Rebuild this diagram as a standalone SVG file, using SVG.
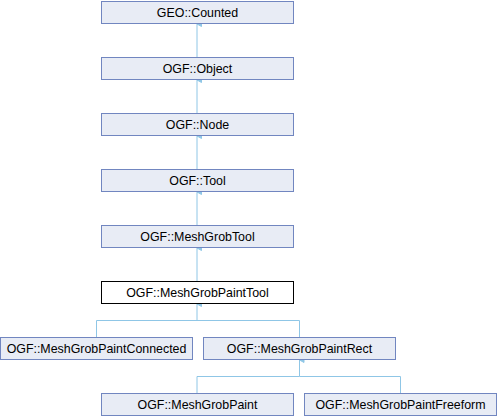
<svg xmlns="http://www.w3.org/2000/svg" width="497" height="416" viewBox="0 0 497 416">
<style>
.n rect{fill:#e8ecf5;stroke:#7186c0;stroke-width:1}
.n.cur rect{fill:#ffffff;stroke:#000000}
.n text{font-family:"Liberation Sans",Arial,sans-serif;font-size:12.4px;fill:#000;text-anchor:middle}
.e{fill:none;stroke:#8fc6e6;stroke-width:1}
</style>
<defs>
<marker id="a" markerWidth="8" markerHeight="8" refX="4" refY="0.5" orient="auto" markerUnits="userSpaceOnUse" viewBox="0 0 8 8">
<path d="M1.5,5 L4,0.5 L6.5,5 Z" fill="#8fc6e6" stroke="#8fc6e6"/>
</marker>
</defs>
<rect width="497" height="416" fill="#ffffff"/>
<g id="connectors">
<path class="e" d="M197,57 V24" marker-end="url(#a)"/>
<path class="e" d="M197,113 V80" marker-end="url(#a)"/>
<path class="e" d="M197,169 V136" marker-end="url(#a)"/>
<path class="e" d="M197,225 V192" marker-end="url(#a)"/>
<path class="e" d="M197,281 V248" marker-end="url(#a)"/>
<path class="e" d="M96.5,337 V320.5 H197 V304" marker-end="url(#a)"/>
<path class="e" d="M299.5,337 V320.5 H197"/>
<path class="e" d="M197,393 V376.5 H299.5 V360" marker-end="url(#a)"/>
<path class="e" d="M400.5,393 V376.5 H299.5"/>
</g>
<g id="geo_counted" class="n"><rect x="101.5" y="1.5" width="192" height="22"/><text x="197.5" y="16.5">GEO::Counted</text></g>
<g id="ogf_object" class="n"><rect x="101.5" y="57.5" width="192" height="22"/><text x="197.5" y="72.5">OGF::Object</text></g>
<g id="ogf_node" class="n"><rect x="101.5" y="113.5" width="192" height="22"/><text x="197.5" y="128.5">OGF::Node</text></g>
<g id="ogf_tool" class="n"><rect x="101.5" y="169.5" width="192" height="22"/><text x="197.5" y="184.5">OGF::Tool</text></g>
<g id="ogf_meshgrobtool" class="n"><rect x="101.5" y="225.5" width="192" height="22"/><text x="197.5" y="240.5">OGF::MeshGrobTool</text></g>
<g id="ogf_meshgrobpainttool" class="n cur"><rect x="101.5" y="281.5" width="192" height="22"/><text x="197.5" y="296.5">OGF::MeshGrobPaintTool</text></g>
<g id="ogf_meshgrobpaintconnected" class="n"><rect x="0.5" y="337.5" width="192" height="22"/><text x="96.5" y="352.5">OGF::MeshGrobPaintConnected</text></g>
<g id="ogf_meshgrobpaintrect" class="n"><rect x="203.5" y="337.5" width="192" height="22"/><text x="299.5" y="352.5">OGF::MeshGrobPaintRect</text></g>
<g id="ogf_meshgrobpaint" class="n"><rect x="101.5" y="393.5" width="192" height="22"/><text x="197.5" y="408.5">OGF::MeshGrobPaint</text></g>
<g id="ogf_meshgrobpaintfreeform" class="n"><rect x="304.5" y="393.5" width="192" height="22"/><text x="400.5" y="408.5">OGF::MeshGrobPaintFreeform</text></g>
</svg>
